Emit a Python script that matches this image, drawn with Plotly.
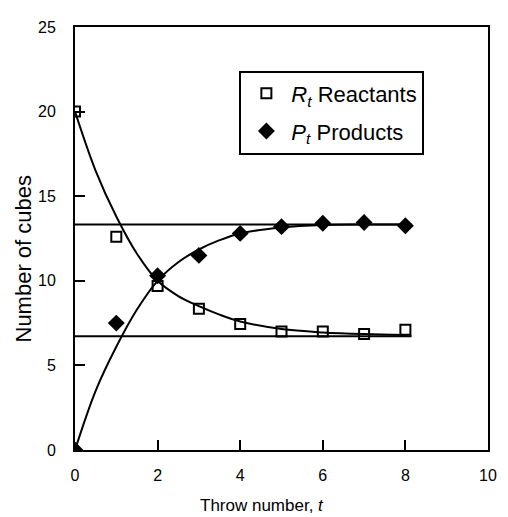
import plotly.graph_objects as go

# observed data
t_obs = [0, 1, 2, 3, 4, 5, 6, 7, 8]
reactants = [20.0, 12.6, 9.7, 8.35, 7.45, 7.0, 7.0, 6.85, 7.1]
products = [0.0, 7.5, 10.3, 11.5, 12.8, 13.2, 13.4, 13.45, 13.25]

# fitted curves
t_fit = [0, 0.5, 1, 1.5, 2, 2.5, 3, 3.5, 4, 5, 6, 7, 8]
r_fit = [20.0, 16.5, 13.8, 11.6, 10.0, 9.1, 8.5, 8.0, 7.6, 7.15, 6.95, 6.85, 6.8]
p_fit = [0.0, 3.5, 6.1, 8.3, 10.0, 11.1, 11.85, 12.4, 12.8, 13.15, 13.3, 13.33, 13.33]

# equilibrium levels
t_eq = [0, 8.15]
p_eq = [13.33, 13.33]
r_eq = [6.72, 6.72]

x_ticks = [0, 2, 4, 6, 8, 10]
y_ticks = [0, 5, 10, 15, 20, 25]

FONT = "Liberation Sans, Arial, sans-serif"

fig = go.Figure()
line_style = dict(color="black", width=2)
fig.add_trace(go.Scatter(x=t_eq, y=p_eq, mode="lines", line=line_style, showlegend=False))
fig.add_trace(go.Scatter(x=t_eq, y=r_eq, mode="lines", line=line_style, showlegend=False))
fig.add_trace(go.Scatter(x=t_fit, y=r_fit, mode="lines", line=dict(color="black", width=2, shape="spline"), showlegend=False))
fig.add_trace(go.Scatter(x=t_fit, y=p_fit, mode="lines", line=dict(color="black", width=2, shape="spline"), showlegend=False))
fig.add_trace(go.Scatter(
    x=t_obs, y=reactants, mode="markers", name="<i>R</i><sub><i>t</i></sub> Reactants",
    marker=dict(symbol="square-open", size=10, color="black", line=dict(width=2, color="black")),
    legendgroup="r"))
fig.add_trace(go.Scatter(
    x=t_obs, y=products, mode="markers", name="<i>P</i><sub><i>t</i></sub> Products",
    marker=dict(symbol="diamond", size=13, color="black", line=dict(width=0)),
    legendgroup="p"))

axis_common = dict(
    showline=True, linecolor="black", linewidth=2, mirror=True,
    ticks="inside", ticklen=10, tickwidth=2, tickcolor="black",
    showgrid=False, zeroline=False,
    tickfont=dict(family=FONT, size=16, color="black"),
)
fig.update_xaxes(range=[0, 10], tickvals=x_ticks, ticklabelstandoff=10, **axis_common)
fig.update_yaxes(range=[0, 25], tickvals=y_ticks, ticklabelstandoff=14, **axis_common)

# page body adds an 8px offset; compensate so the plot area sits at 75..497 x 24..450
fig.update_layout(
    width=500, height=509,
    margin=dict(l=67, r=11, t=16, b=67),
    paper_bgcolor="white", plot_bgcolor="white",
    font=dict(family=FONT, color="black"),
    legend=dict(
        x=0.398, y=0.897, xanchor="left", yanchor="top",
        bordercolor="black", borderwidth=2, bgcolor="white",
        font=dict(family=FONT, size=22, color="black"),
        traceorder="grouped", tracegroupgap=6,
        itemwidth=40,
    ),
    annotations=[
        dict(text="Throw number, <i>t</i>", xref="paper", yref="paper",
             x=0.4526, y=-0.1315, xanchor="center", yanchor="middle", showarrow=False,
             font=dict(family=FONT, size=17, color="black")),
        dict(text="Number of cubes", xref="paper", yref="paper",
             x=-0.1256, y=0.453, xanchor="center", yanchor="middle",
             textangle=-90, showarrow=False,
             font=dict(family=FONT, size=22, color="black")),
    ],
)

fig.write_html("out.html")
